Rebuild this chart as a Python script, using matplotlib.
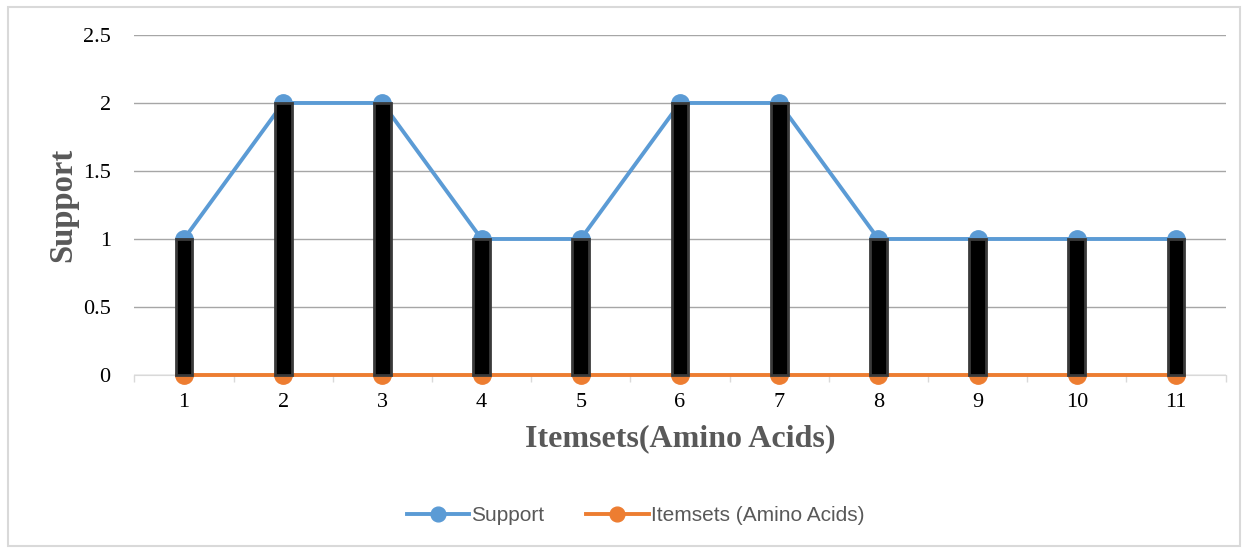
import matplotlib.pyplot as plt
from matplotlib.patches import Rectangle

itemsets = [1, 2, 3, 4, 5, 6, 7, 8, 9, 10, 11]
support = [1, 2, 2, 1, 1, 2, 2, 1, 1, 1, 1]
amino = [0, 0, 0, 0, 0, 0, 0, 0, 0, 0, 0]
yticks = [0, 0.5, 1, 1.5, 2, 2.5]
ytick_labels = ['0', '0.5', '1', '1.5', '2', '2.5']

blue = '#5B9BD5'
orange = '#ED7D31'

fig = plt.figure(figsize=(12.51, 5.5), dpi=100)
ax = fig.add_axes([0.1074, 0.3182, 0.8723, 0.6182])

# lignes
ax.plot(itemsets, support, color=blue, lw=2.8, marker='o', ms=12.5, label='Support',
        zorder=3, clip_on=False)
ax.plot(itemsets, amino, color=orange, lw=2.8, marker='o', ms=12.5,
        label='Itemsets (Amino Acids)', zorder=3, clip_on=False)

# barres haut/bas entre les deux series
lows = [min(a, b) for a, b in zip(support, amino)]
highs = [abs(a - b) for a, b in zip(support, amino)]
ax.bar(itemsets, highs, bottom=lows, width=0.17, color='black',
       edgecolor='#3a3a3a', linewidth=2, zorder=4, clip_on=False)

ax.set_xlim(0.5, 11.5)
ax.set_ylim(0, 2.5)
ax.set_yticks(yticks)
ax.set_yticklabels(ytick_labels)
ax.set_xticks(itemsets)
ax.set_xticks([x + 0.5 for x in [0] + itemsets], minor=True)
ax.tick_params(axis='y', length=0, pad=17, labelsize=16)
ax.tick_params(axis='x', which='major', length=0, pad=13, labelsize=16)
ax.tick_params(axis='x', which='minor', length=5, width=1, color='#D9D9D9')
for lab in ax.get_xticklabels() + ax.get_yticklabels():
    lab.set_fontfamily('Liberation Serif')

ax.grid(axis='y', color='#A6A6A6', lw=1)
ax.set_axisbelow(True)
for s in ['left', 'right', 'top']:
    ax.spines[s].set_visible(False)
ax.spines['bottom'].set_color('#D9D9D9')

ax.set_ylabel('Support', fontsize=23.5, fontweight='bold', color='#595959',
              family='Liberation Serif', labelpad=3)
ax.set_xlabel('Itemsets(Amino Acids)', fontsize=23, fontweight='bold', color='#595959',
              family='Liberation Serif', labelpad=9)

leg = fig.legend(loc='center', bbox_to_anchor=(0.508, 0.062), ncol=2, frameon=False,
                 handlelength=3.0, handletextpad=0.1, columnspacing=2.0, markerscale=0.85,
                 prop={'family': 'Liberation Sans', 'size': 15})
for t in leg.get_texts():
    t.set_color('#595959')

fig.patches.append(Rectangle((0.006, 0.008), 0.985, 0.98, transform=fig.transFigure,
                             fill=False, edgecolor='#D9D9D9', lw=1.5))

fig.savefig('out.png', dpi=100)
